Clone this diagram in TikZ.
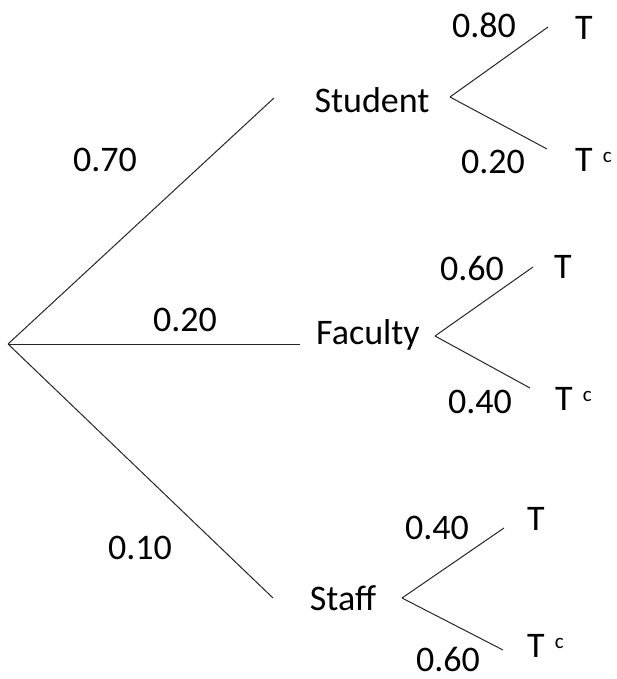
\documentclass[tikz,border=0pt]{standalone}
\usepackage{fontspec}
\setmainfont{Carlito}
\begin{document}
\begin{tikzpicture}[x=1pt,y=-1pt,
  lbl/.style={font=\fontsize{36}{40}\selectfont, inner sep=0pt, anchor=center},
  br/.style={line width=1pt, draw=black!85}]
\useasboundingbox (0,0) rectangle (616,679);
\newcommand\Tcomp{T\hspace{10pt}\raisebox{9pt}{\fontsize{21}{21}\selectfont c}}
% root
\coordinate (root) at (8,344);
% first level
\node[lbl] (stu) at (372,100) {Student};
\node[lbl] (fac) at (368,335) {Faculty};
\node[lbl] (sta) at (343,598) {Staff};
\coordinate (stuin) at (274,98);
\coordinate (facin) at (300,344);
\coordinate (stain) at (273,598);
\draw[br] (root) -- (stuin);
\draw[br] (root) -- (facin);
\draw[br] (root) -- (stain);
\node[lbl] (p1) at (105,160) {0.70};
\node[lbl] (p2) at (185,320) {0.20};
\node[lbl] (p3) at (140,548) {0.10};
% Student branches
\coordinate (sv) at (450,97);
\coordinate (su) at (548,27);
\coordinate (sl) at (547,149);
\draw[br] (sv) -- (su);
\draw[br] (sv) -- (sl);
\node[lbl] (sT) at (584,28) {T};
\node[lbl, anchor=west] (sTc) at (575,160) {\Tcomp};
\node[lbl] (q1) at (484,25) {0.80};
\node[lbl] (q2) at (493,162) {0.20};
% Faculty branches
\coordinate (fv) at (435,336);
\coordinate (fu) at (533,267);
\coordinate (fl) at (530,388);
\draw[br] (fv) -- (fu);
\draw[br] (fv) -- (fl);
\node[lbl] (fT) at (563,267) {T};
\node[lbl, anchor=west] (fTc) at (555,399) {\Tcomp};
\node[lbl] (q3) at (472,268) {0.60};
\node[lbl] (q4) at (480,402) {0.40};
% Staff branches
\coordinate (tv) at (402,598);
\coordinate (tu) at (504,528);
\coordinate (tl) at (503,650);
\draw[br] (tv) -- (tu);
\draw[br] (tv) -- (tl);
\node[lbl] (tT) at (536,519) {T};
\node[lbl, anchor=west] (tTc) at (527,646) {\Tcomp};
\node[lbl] (q5) at (437,528) {0.40};
\node[lbl] (q6) at (448,659) {0.60};
\end{tikzpicture}
\end{document}
